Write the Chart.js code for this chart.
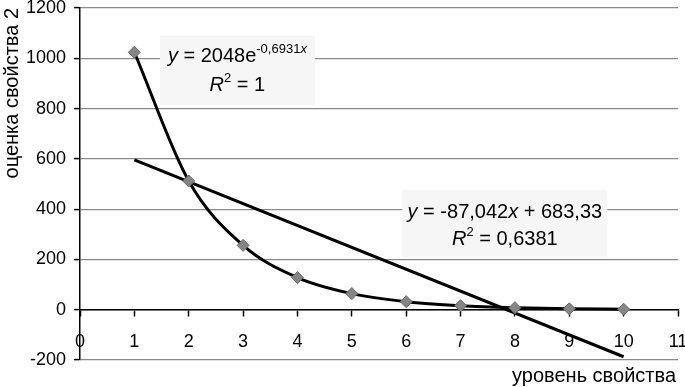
<!DOCTYPE html>
<html><head><meta charset="utf-8">
<script src="https://cdn.jsdelivr.net/npm/chart.js@4"></script>
<style>html,body{margin:0;padding:0;background:#fff}#wrap{width:685px;height:387px;position:relative}</style>
</head><body><div id="wrap"><canvas id="c"></canvas></div>
<script>
const levels = [1,2,3,4,5,6,7,8,9,10];
const scores = [1024,512,256,128,64,32,16,8,4,2];
const linearTrendX = [1,10];
const linearTrendY = [596.3,-187.1];
const xTickRange = [0,11];
const yTickRange = [-200,1200];
const xTitle = 'уровень свойства';
const yTitle = 'оценка свойства 2';
const expLabel = [[{t:'y',i:1},{t:' = 2048e'},{t:'-0,6931',s:1},{t:'x',s:1,i:1}],[{t:'R',i:1},{t:'2',s:1},{t:' = 1'}]];
const linLabel = [[{t:'y',i:1},{t:' = -87,042'},{t:'x',i:1},{t:' + 683,33'}],[{t:'R',i:1},{t:'2',s:1},{t:' = 0,6381'}]];

const FONT = '"Liberation Sans", Arial, sans-serif';
function pts(xs, ys){ return xs.map((x,k)=>({x:x,y:ys[k]})); }

function drawLabel(ctx, lines, cx, top, first, lh, size){
  lines.forEach((segs, li)=>{
    const fontFor = s => (s.i?'italic ':'') + (s.s? Math.round(size*0.65):size) + 'px ' + FONT;
    let w = 0;
    segs.forEach(s=>{ ctx.font = fontFor(s); w += ctx.measureText(s.t).width; });
    let x = cx - w/2;
    const base = top + first + lh*li;
    segs.forEach(s=>{
      ctx.font = fontFor(s);
      ctx.fillStyle = '#000';
      ctx.textBaseline = 'alphabetic';
      ctx.textAlign = 'left';
      ctx.fillText(s.t, x, s.s ? base - size*0.45 : base);
      x += ctx.measureText(s.t).width;
    });
  });
}

const labelsPlugin = {
  id: 'labels',
  beforeDatasetsDraw(chart){
    const ctx = chart.ctx, xs = chart.scales.x, ys = chart.scales.y;
    ctx.save();
    let l = xs.getPixelForValue(1.47), r = xs.getPixelForValue(4.32), t = ys.getPixelForValue(1090), b = ys.getPixelForValue(815);
    ctx.fillStyle = '#f6f6f6';
    ctx.fillRect(l, t, r-l, b-t);
    drawLabel(ctx, expLabel, (l+r)/2, t, 26, 29, 20);
    l = xs.getPixelForValue(5.93); r = xs.getPixelForValue(9.7); t = ys.getPixelForValue(477); b = ys.getPixelForValue(210);
    ctx.fillStyle = '#f6f6f6';
    ctx.fillRect(l, t, r-l, b-t);
    drawLabel(ctx, linLabel, (l+r)/2, t, 28, 27, 20);
    ctx.restore();
  },
  afterDraw(chart){
    const ctx = chart.ctx;
    ctx.save();
    ctx.font = '20px ' + FONT;
    ctx.fillStyle = '#000';
    ctx.textAlign = 'right';
    ctx.textBaseline = 'alphabetic';
    ctx.fillText(xTitle, 676, 382);
    ctx.restore();
  }
};

new Chart(document.getElementById('c'), {
  type: 'scatter',
  data: {
    datasets: [
      { data: pts(levels, scores), showLine:false, pointStyle:'rectRot', pointRadius:6, pointHoverRadius:6,
        backgroundColor:'#858585', borderColor:'#6a6a6a', borderWidth:1, order:0 },
      { data: pts(levels, scores), showLine:true, pointRadius:0, borderColor:'#000', borderWidth:3,
        cubicInterpolationMode:'monotone', fill:false, order:1 },
      { data: pts(linearTrendX, linearTrendY), showLine:true, pointRadius:0, borderColor:'#000', borderWidth:3, fill:false, order:1 }
    ]
  },
  options: {
    responsive:true, maintainAspectRatio:false, animation:false,
    layout:{ padding:{ top:8, right:7, bottom:27, left:0 } },
    plugins:{ legend:{display:false}, tooltip:{enabled:false} },
    scales:{
      x:{ type:'linear', min:xTickRange[0], max:xTickRange[1], position:{y:0},
        ticks:{ stepSize:1, color:'#000', font:{family:FONT, size:18}, padding:16, maxRotation:0, autoSkip:false,
          callback:v=>String(v) },
        grid:{ drawOnChartArea:false, drawTicks:true, tickLength:6, tickColor:'#000', tickWidth:1.5 },
        border:{ color:'#000', width:1.5 },
        afterFit(s){ s.height = 0; s.paddingLeft = 0; s.paddingRight = 0; }
      },
      y:{ min:yTickRange[0], max:yTickRange[1],
        ticks:{ stepSize:200, color:'#000', font:{family:FONT, size:18}, padding:8, callback:v=>String(v) },
        grid:{ color:'#8a8a8a', lineWidth:1.2, tickLength:6, tickColor:'#000', tickWidth:1.5 },
        border:{ color:'#000', width:1.5 },
        title:{ display:true, text:yTitle, align:'end', color:'#000', font:{family:FONT, size:20}, padding:{top:0,bottom:0} },
        afterFit(s){ s.width = 80; s.paddingTop = 0; s.paddingBottom = 0; }
      }
    }
  },
  plugins:[labelsPlugin]
});
</script></body></html>
